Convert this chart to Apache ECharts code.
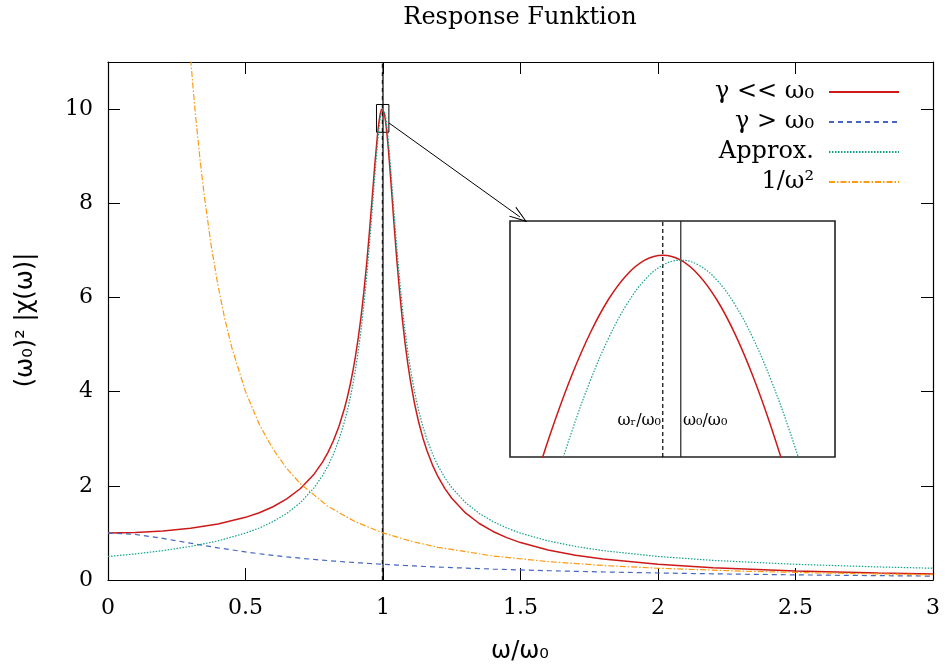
<!DOCTYPE html>
<html>
<head>
<meta charset="utf-8">
<script src="https://cdn.jsdelivr.net/npm/echarts@6/dist/echarts.min.js"></script>
<style>html,body{margin:0;padding:0;background:#fff;}#chart{width:946px;height:670px;}</style>
</head>
<body>
<div id="chart"></div>
<script>
// ---- data ----
const mainX = [0,0.1,0.2,0.3,0.4, 0.5,0.55,0.6,0.65,0.7, 0.75,0.78,0.8,0.82,0.84, 0.86,0.87,0.88,0.89,0.9, 0.91,0.92,0.93,0.94,0.95, 0.96,0.97,0.98,0.985,0.99, 0.995,0.9975,1.0,1.005,1.01, 1.015,1.02,1.025,1.03,1.035, 1.04,1.045,1.05,1.06,1.07, 1.08,1.09,1.1,1.115,1.13, 1.145,1.16,1.18,1.2,1.225, 1.25,1.3,1.35,1.4,1.45, 1.5,1.6,1.7,1.8,2.0, 2.2,2.5,2.8,3.0];
const redMain = [1,1.0101,1.0414,1.0983,1.1891, 1.3304,1.4293,1.5557,1.7207,1.9426, 2.2529,2.5044,2.7116,2.9612,3.2664, 3.6465,3.873,4.1296,4.4219,4.7565, 5.1413,5.5851,6.097,6.6837,7.346, 8.068,8.8038,9.4609,9.718,9.903, 10.0001,10.0125,10,9.9011,9.7106, 9.4424,9.1149,8.7474,8.3572,7.9592, 7.5647,7.1817,6.8151,6.1414,5.5517, 5.0409,4.5998,4.2182,3.7374,3.3437, 3.0172,2.7431,2.4404,2.1926,1.9403, 1.7354,1.4242,1.1998,1.0308,0.8993, 0.7943,0.6377,0.527,0.445,0.3326, 0.26,0.1903,0.1461,0.1249];
const blueMain = [1,0.9667,0.8833,0.7813,0.6827, 0.5963,0.5582,0.5235,0.4917,0.4627, 0.4363,0.4215,0.4121,0.4029,0.3941, 0.3856,0.3815,0.3774,0.3734,0.3695, 0.3656,0.3618,0.358,0.3543,0.3507, 0.3471,0.3436,0.3401,0.3384,0.3367, 0.335,0.3342,0.3333,0.3317,0.33, 0.3284,0.3268,0.3252,0.3236,0.322, 0.3204,0.3188,0.3173,0.3142,0.3112, 0.3082,0.3053,0.3024,0.2982,0.294, 0.2899,0.286,0.2808,0.2757,0.2696, 0.2637,0.2525,0.242,0.2321,0.2228, 0.2141,0.1981,0.1839,0.1711,0.1491, 0.131,0.1092,0.0923,0.083];
const greenMain = [0.4994,0.5547,0.6238,0.7125,0.8304, 0.995,1.1043,1.2404,1.4142,1.644, 1.9612,2.2162,2.4254,2.6765,2.9827, 3.3634,3.5898,3.8462,4.138,4.4721, 4.8564,5.3,5.8124,6.4018,7.0711, 7.8087,8.575,9.2848,9.5783,9.8058, 9.9504,9.9875,10,9.9504,9.8058, 9.5783,9.2848,8.9443,8.575,8.1923, 7.8087,7.4329,7.0711,6.4018,5.8124, 5.3,4.8564,4.4721,3.9873,3.5898, 3.2599,2.9827,2.6765,2.4254,2.1693, 1.9612,1.644,1.4142,1.2404,1.1043, 0.995,0.8304,0.7125,0.6238,0.4994, 0.4163,0.3331,0.2777,0.2499];
const orangeX = [0.28,0.3,0.31,0.32,0.335,0.35,0.375,0.4,0.425,0.45,0.5,0.55,0.6,0.65,0.7,0.8,0.9,1.0,1.1,1.2,1.4,1.6,1.8,2.0,2.3,2.6,3.0];
const orangeY = [12.7551,11.1111,10.406,9.7656,8.9107,8.1633,7.1111,6.25,5.5363,4.9383,4,3.3058,2.7778,2.3669,2.0408,1.5625,1.2346,1,0.8264,0.6944,0.5102,0.3906,0.3086,0.25,0.189,0.1479,0.1111];

const insetX = [0.975,0.9775,0.98,0.9825,0.985,0.9875,0.99,0.9925,0.995,0.9975,1.0,1.0025,1.005,1.0075,1.01,1.0125,1.015,1.0175,1.02,1.0225];
const redInset = [9.1501,9.311,9.4609,9.5973,9.718,9.8206,9.903,9.9632,10.0001,10.0125,10,9.9626,9.9011,9.8165,9.7106,9.5851,9.4424,9.2849,9.1149,8.9351];
const greenInset = [8.9443,9.1192,9.2848,9.4386,9.5783,9.7014,9.8058,9.8894,9.9504,9.9875,10,9.9875,9.9504,9.8894,9.8058,9.7014,9.5783,9.4386,9.2848,9.1192];

const seriesNames = ['γ << ω₀', 'γ > ω₀', 'Approx.', '1/ω²'];
const xRange = [0, 3], xStep = 0.5;
const yRange = [0, 11], yStep = 2;
const insetXRange = [0.9763, 1.0214];
const insetYRange = [9.508, 10.098];
const omegaR = 0.9975, omega0 = 1.0;
const arrowFrom = [1.0218, 9.705], arrowTo = [1.498, 7.709];

// ---- styles ----
const C_RED = '#cc1a1a', C_BLUE = '#4466c0', C_GREEN = '#12a08c', C_ORANGE = '#ff9a10';
const SERIF = '"DejaVu Serif", serif';
const SANS = '"DejaVu Sans", sans-serif';

const pairs = (xs, ys) => xs.map((x, i) => [x, ys[i]]);
const chevron = 'path://M0,100 L50,0 L100,100 L91,100 L50,18 L9,100 Z';

const tickStyle = { show: true, inside: true, length: 12, lineStyle: { color: '#000', width: 1 } };
const lineAx = { show: true, onZero: false, lineStyle: { color: '#000', width: 1.2 } };

const chart = echarts.init(document.getElementById('chart'), null, { renderer: 'canvas' });
chart.setOption({
  animation: false,
  backgroundColor: '#fff',
  grid: [
    { left: 108, top: 62, right: 13, bottom: 90, show: false },
    { left: 510, top: 221, width: 325, height: 236, show: true, borderColor: '#222', borderWidth: 1.6, backgroundColor: '#fff', z: 5 }
  ],
  xAxis: [
    { type: 'value', gridIndex: 0, min: xRange[0], max: xRange[1], interval: xStep, position: 'bottom',
      axisLine: lineAx, axisTick: tickStyle, splitLine: { show: false },
      axisLabel: { color: '#000', fontFamily: SERIF, fontSize: 22, margin: 17 } },
    { type: 'value', gridIndex: 0, min: xRange[0], max: xRange[1], interval: xStep, position: 'top',
      axisLine: lineAx, axisTick: tickStyle, splitLine: { show: false }, axisLabel: { show: false } },
    { type: 'value', gridIndex: 1, min: insetXRange[0], max: insetXRange[1], show: false, splitLine: { show: false } }
  ],
  yAxis: [
    { type: 'value', gridIndex: 0, min: yRange[0], max: yRange[1], interval: yStep, position: 'left',
      axisLine: lineAx, axisTick: tickStyle, splitLine: { show: false },
      axisLabel: { color: '#000', fontFamily: SERIF, fontSize: 22, margin: 15, showMaxLabel: false } },
    { type: 'value', gridIndex: 0, min: yRange[0], max: yRange[1], interval: yStep, position: 'right',
      axisLine: lineAx, axisTick: tickStyle, splitLine: { show: false }, axisLabel: { show: false } },
    { type: 'value', gridIndex: 1, min: insetYRange[0], max: insetYRange[1], show: false, splitLine: { show: false } }
  ],
  legend: {
    data: seriesNames,
    orient: 'vertical',
    right: 41, top: 74,
    align: 'right',
    itemWidth: 70, itemHeight: 14, itemGap: 4,
    itemStyle: { color: 'rgba(0,0,0,0)', borderWidth: 0, opacity: 0 },
    textStyle: { color: '#000', fontFamily: SERIF, fontSize: 24, lineHeight: 26, padding: [0, 10, 0, 0] }
  },
  series: [
    { name: 'vlines', type: 'line', xAxisIndex: 0, yAxisIndex: 0, symbol: 'none', silent: true,
      data: [[omega0, yRange[0]], [omega0, yRange[1]]], lineStyle: { color: '#000', width: 1.2 },
      markArea: { silent: true, itemStyle: { color: 'rgba(0,0,0,0)', borderColor: '#000', borderWidth: 1 },
        data: [[{ coord: [insetXRange[0], insetYRange[0]] }, { coord: [insetXRange[1], insetYRange[1]] }]] },
      markLine: { silent: true, symbol: ['none', chevron], symbolSize: [12, 18], label: { show: false },
        lineStyle: { color: '#000', width: 1, type: 'solid' },
        data: [[{ coord: arrowFrom }, { coord: arrowTo }]] } },
    { name: 'vlineR', type: 'line', xAxisIndex: 0, yAxisIndex: 0, symbol: 'none', silent: true,
      data: [[omegaR, yRange[0]], [omegaR, yRange[1]]], lineStyle: { color: '#000', width: 1, type: [4, 4] } },
    { name: seriesNames[0], type: 'line', xAxisIndex: 0, yAxisIndex: 0, symbol: 'none',
      data: pairs(mainX, redMain), lineStyle: { color: C_RED, width: 1.5 }, itemStyle: { color: C_RED } },
    { name: seriesNames[1], type: 'line', xAxisIndex: 0, yAxisIndex: 0, symbol: 'none',
      data: pairs(mainX, blueMain), lineStyle: { color: C_BLUE, width: 1.2, type: [5, 4] }, itemStyle: { color: C_BLUE } },
    { name: seriesNames[2], type: 'line', xAxisIndex: 0, yAxisIndex: 0, symbol: 'none',
      data: pairs(mainX, greenMain), lineStyle: { color: C_GREEN, width: 1.2, type: [1.5, 1.5] }, itemStyle: { color: C_GREEN } },
    { name: seriesNames[3], type: 'line', xAxisIndex: 0, yAxisIndex: 0, symbol: 'none',
      data: pairs(orangeX, orangeY), lineStyle: { color: C_ORANGE, width: 1.2, type: [6, 2, 1.5, 2] }, itemStyle: { color: C_ORANGE } },
    // inset
    { name: 'insetVR', type: 'line', xAxisIndex: 2, yAxisIndex: 2, symbol: 'none', silent: true, z: 6,
      data: [[omegaR, insetYRange[0]], [omegaR, insetYRange[1]]], lineStyle: { color: '#000', width: 1.2, type: [4, 3] } },
    { name: 'insetV0', type: 'line', xAxisIndex: 2, yAxisIndex: 2, symbol: 'none', silent: true, z: 6,
      data: [[omega0, insetYRange[0]], [omega0, insetYRange[1]]], lineStyle: { color: '#222', width: 1.2 } },
    { name: 'insetRed', type: 'line', xAxisIndex: 2, yAxisIndex: 2, symbol: 'none', smooth: 0.4, z: 6,
      data: pairs(insetX, redInset), lineStyle: { color: C_RED, width: 1.5 } },
    { name: 'insetGreen', type: 'line', xAxisIndex: 2, yAxisIndex: 2, symbol: 'none', smooth: 0.4, z: 6,
      data: pairs(insetX, greenInset), lineStyle: { color: C_GREEN, width: 1.2, type: [1.5, 1.5] } }
  ],
  graphic: [
    { type: 'text', x: 520, y: 18, z: 10, style: { text: 'Response Funktion', font: '24px ' + SERIF, fill: '#000', textAlign: 'center', textVerticalAlign: 'middle' } },
    { type: 'text', x: 26, y: 320, rotation: Math.PI / 2, z: 10, style: { text: '(ω₀)² |χ(ω)|', font: '24px ' + SANS, fill: '#000', textAlign: 'center', textVerticalAlign: 'middle' } },
    { type: 'text', x: 520, y: 652, z: 10, style: { text: 'ω/ω₀', font: '24px ' + SANS, fill: '#000', textAlign: 'center', textVerticalAlign: 'middle' } },
    { type: 'text', x: 661, y: 421, z: 10, style: { text: 'ωᵣ/ω₀', font: '16px ' + SERIF, fill: '#000', textAlign: 'right', textVerticalAlign: 'middle' } },
    { type: 'text', x: 683, y: 421, z: 10, style: { text: 'ω₀/ω₀', font: '16px ' + SERIF, fill: '#000', textAlign: 'left', textVerticalAlign: 'middle' } }
  ]
});
</script>
</body>
</html>
